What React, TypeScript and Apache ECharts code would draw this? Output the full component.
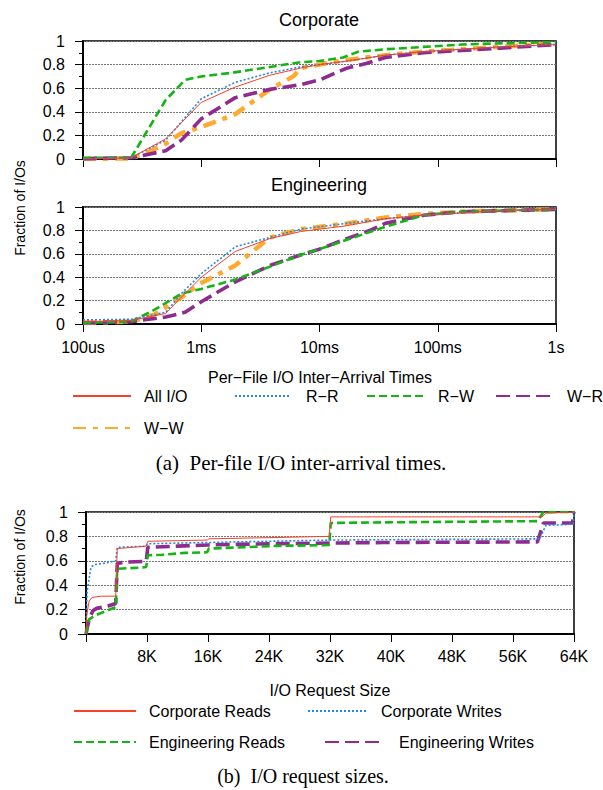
import React, { useEffect, useRef } from "react";
import * as echarts from "echarts";

// ---------- data (time in ms, fraction) ----------
const TIME_TICKS = [0.1, 1, 10, 100, 1000];
const TIME_TICK_LABELS = ["100us", "1ms", "10ms", "100ms", "1s"];
const SIZE_TICK_LABELS = ["", "8K", "16K", "24K", "32K", "40K", "48K", "56K", "64K"];

const corpAll = [[0.1, 0.0], [0.255, 0.01], [0.5, 0.17], [1.0, 0.48], [1.94, 0.61], [3.8, 0.71], [6.9, 0.77], [10, 0.8], [17, 0.83], [36, 0.88], [76, 0.91], [160, 0.93], [340, 0.95], [1000, 0.97]];
const corpRR = [[0.1, 0.0], [0.255, 0.01], [0.5, 0.16], [1.0, 0.51], [1.94, 0.65], [3.8, 0.73], [6.9, 0.78], [10, 0.8], [17, 0.83], [36, 0.88], [76, 0.91], [160, 0.93], [340, 0.95], [1000, 0.97]];
const corpRW = [[0.1, 0.01], [0.255, 0.01], [0.5, 0.5], [0.73, 0.67], [1.0, 0.7], [1.8, 0.73], [3.8, 0.78], [6.9, 0.82], [10, 0.83], [15.8, 0.86], [21.4, 0.91], [36, 0.93], [76, 0.95], [160, 0.97], [340, 0.98], [1000, 0.99]];
const corpWR = [[0.1, 0.0], [0.13, 0.005], [0.255, 0.01], [0.5, 0.07], [0.68, 0.16], [1.0, 0.34], [1.94, 0.52], [3.8, 0.59], [6.9, 0.63], [10, 0.67], [17, 0.77], [24.8, 0.81], [36, 0.86], [76, 0.9], [160, 0.92], [340, 0.94], [1000, 0.97]];
const corpWW = [[0.1, 0.0], [0.255, 0.005], [0.344, 0.05], [0.5, 0.13], [0.68, 0.22], [1.0, 0.27], [1.94, 0.38], [3.8, 0.59], [6.0, 0.7], [6.9, 0.77], [10, 0.8], [17, 0.84], [36, 0.88], [76, 0.91], [160, 0.93], [340, 0.95], [1000, 0.98]];

const engAll = [[0.1, 0.02], [0.255, 0.03], [0.5, 0.09], [0.68, 0.23], [1.0, 0.4], [1.94, 0.62], [3.8, 0.73], [6.9, 0.79], [17, 0.84], [36, 0.9], [76, 0.93], [160, 0.95], [340, 0.97], [1000, 0.98]];
const engRR = [[0.1, 0.035], [0.255, 0.04], [0.5, 0.1], [0.68, 0.26], [1.0, 0.43], [1.94, 0.66], [3.8, 0.74], [6.9, 0.81], [17, 0.86], [36, 0.9], [76, 0.93], [160, 0.95], [340, 0.97], [1000, 0.98]];
const engRW = [[0.1, 0.01], [0.255, 0.02], [0.4, 0.12], [0.68, 0.26], [1.0, 0.3], [1.94, 0.38], [3.8, 0.49], [6.9, 0.59], [10, 0.64], [17, 0.72], [36, 0.83], [76, 0.93], [160, 0.96], [1000, 0.98]];
const engWR = [[0.1, 0.01], [0.255, 0.02], [0.5, 0.06], [0.73, 0.1], [1.0, 0.19], [1.94, 0.36], [3.8, 0.5], [6.9, 0.59], [10, 0.64], [17, 0.73], [26.7, 0.8], [36, 0.86], [76, 0.93], [160, 0.96], [1000, 0.98]];
const engWW = [[0.1, 0.01], [0.255, 0.02], [0.4, 0.08], [0.68, 0.23], [1.0, 0.35], [1.94, 0.5], [3.8, 0.74], [6.9, 0.81], [17, 0.86], [36, 0.91], [76, 0.94], [160, 0.96], [340, 0.97], [1000, 0.98]];

// request sizes in K
const corpReads = [[0, 0], [0.1, 0.15], [0.4, 0.27], [0.8, 0.3], [2, 0.31], [3.9, 0.31], [4.1, 0.7], [7.9, 0.72], [8.1, 0.76], [15.9, 0.77], [16.1, 0.78], [31.9, 0.8], [32.1, 0.96], [59.8, 0.96], [60.3, 0.99], [64, 1.0]];
const corpWrites = [[0, 0.1], [0.15, 0.35], [0.65, 0.55], [1.15, 0.57], [2.4, 0.58], [3.9, 0.6], [4.1, 0.71], [7.9, 0.72], [8.1, 0.74], [16, 0.75], [24, 0.76], [32, 0.77], [59.5, 0.78], [60.3, 0.89], [63.9, 0.9], [64, 1.0]];
const engReads = [[0, 0], [0.4, 0.12], [1.15, 0.15], [1.9, 0.17], [3.9, 0.22], [4.1, 0.535], [7.4, 0.545], [7.9, 0.55], [8.1, 0.645], [10, 0.65], [13, 0.665], [15.9, 0.67], [16.1, 0.7], [24, 0.72], [31.9, 0.73], [32.1, 0.91], [39, 0.915], [49, 0.92], [59.2, 0.925], [60, 1.0], [64, 1.0]];
const engWrites = [[0, 0], [0.4, 0.12], [0.9, 0.19], [1.4, 0.21], [2.9, 0.23], [3.9, 0.25], [4.1, 0.58], [5.4, 0.59], [7.9, 0.595], [8.1, 0.71], [12, 0.72], [16, 0.73], [24, 0.74], [32, 0.745], [39, 0.75], [59.2, 0.755], [60, 0.91], [63.8, 0.91], [64, 1.0]];

// ---------- styles ----------
const FONT = "'Liberation Sans', Arial, Helvetica, sans-serif";
const SERIF = "'Liberation Serif', 'Times New Roman', serif";
const STY = {
  red: { color: "#f6402a", width: 1, type: "solid" as any },
  blue: { color: "#1f88e8", width: 1.6, type: [2, 2] as any },
  green: { color: "#14b414", width: 2.6, type: [8, 4] as any },
  purple: { color: "#8e2a90", width: 3.6, type: [14, 6] as any },
  orange: { color: "#ffaa2e", width: 4.5, type: [13, 7, 5, 7] as any },
};

function lineSeries(name: string, data: number[][], idx: number, s: any, z: number) {
  return {
    type: "line",
    name,
    data,
    xAxisIndex: idx,
    yAxisIndex: idx,
    symbol: "none",
    showSymbol: false,
    z,
    color: s.color,
    lineStyle: { color: s.color, width: s.width, type: s.type },
    itemStyle: { color: s.color },
  };
}

function timeLabel(v: number) {
  let best = 0;
  let bd = Infinity;
  TIME_TICKS.forEach((t, i) => {
    const d = Math.abs(Math.log10(t) - Math.log10(v));
    if (d < bd) { bd = d; best = i; }
  });
  return bd < 0.01 ? TIME_TICK_LABELS[best] : "";
}

const axisLine = { show: true, lineStyle: { color: "#000", width: 2 } };
const tickStyle = { color: "#000", width: 1 };

function yAxis(idx: number) {
  return {
    type: "value",
    gridIndex: idx,
    min: 0,
    max: 1,
    interval: 0.2,
    axisLine,
    axisTick: { show: true, length: 8, lineStyle: tickStyle },
    minorTick: { show: true, splitNumber: 2, length: 4, lineStyle: tickStyle },
    splitLine: { show: true, lineStyle: { color: "#777", width: 1, type: [2, 1] } },
    axisLabel: {
      fontFamily: FONT,
      fontSize: 16,
      color: "#000",
      margin: 18,
      formatter: (v: number) => String(+v.toFixed(1)),
    },
  };
}

function timeAxis(idx: number, labels: boolean) {
  return {
    type: "log",
    gridIndex: idx,
    logBase: 10,
    min: TIME_TICKS[0],
    max: TIME_TICKS[TIME_TICKS.length - 1],
    axisLine,
    axisTick: { show: true, length: 8, lineStyle: tickStyle },
    minorTick: { show: false },
    splitLine: { show: false },
    axisLabel: {
      show: labels,
      fontFamily: FONT,
      fontSize: 16,
      color: "#000",
      margin: 15,
      formatter: (v: number) => timeLabel(v),
    },
  };
}

function legendItem(name: string, left: number, top: number, itemWidth: number, pad: number) {
  return {
    show: true,
    data: [name],
    left,
    top: top - 9,
    orient: "horizontal",
    itemWidth,
    itemHeight: 14,
    selectedMode: false,
    padding: 0,
    itemStyle: { opacity: 0, borderWidth: 0 },
    textStyle: { fontFamily: FONT, fontSize: 16, color: "#000", lineHeight: 18, padding: [0, 0, 0, pad] },
  };
}

function textEl(text: string, x: number, y: number, size: number, family: string, rotation = 0) {
  return {
    type: "text",
    x,
    y,
    rotation,
    style: {
      text,
      fontFamily: family,
      fontSize: size,
      fill: "#000",
      align: "center",
      verticalAlign: "middle",
      textAlign: "center",
      textVerticalAlign: "middle",
    },
  };
}

export default function App() {
  const ref = useRef<HTMLDivElement>(null);
  useEffect(() => {
    if (!ref.current) return;
    const chart = echarts.init(ref.current, undefined, { renderer: "svg" });
    const gridBase = { show: true, borderColor: "#000", borderWidth: 1.5, backgroundColor: "transparent", containLabel: false };
    const option: any = {
      animation: false,
      backgroundColor: "#fff",
      textStyle: { fontFamily: FONT },
      grid: [
        { ...gridBase, left: 83, top: 41, width: 473, height: 118 },
        { ...gridBase, left: 83, top: 207, width: 473, height: 117 },
        { ...gridBase, left: 86, top: 512, width: 488, height: 122 },
      ],
      xAxis: [
        timeAxis(0, false),
        timeAxis(1, true),
        {
          type: "value",
          gridIndex: 2,
          min: 0,
          max: 64,
          interval: 8,
          axisLine,
          axisTick: { show: true, length: 8, lineStyle: tickStyle },
          splitLine: { show: false },
          axisLabel: {
            fontFamily: FONT,
            fontSize: 16,
            color: "#000",
            margin: 14,
            formatter: (v: number) => SIZE_TICK_LABELS[Math.round(v / 8)] ?? "",
          },
        },
      ],
      yAxis: [yAxis(0), yAxis(1), yAxis(2)],
      legend: [
        legendItem("All I/O", 72, 396, 58, 8),
        legendItem("R\u2212R", 234, 396, 56, 10),
        legendItem("R\u2212W", 366, 396, 58, 8),
        legendItem("W\u2212R", 495, 396, 56, 10),
        legendItem("W\u2212W", 72, 428, 58, 8),
        legendItem("Corporate Reads", 73, 711, 62, 8),
        legendItem("Corporate Writes", 307, 711, 58, 10),
        legendItem("Engineering Reads", 73, 742, 62, 8),
        legendItem("Engineering Writes", 324, 742, 58, 11),
      ],
      series: [
        lineSeries("All I/O", corpAll, 0, STY.red, 6),
        lineSeries("R\u2212R", corpRR, 0, STY.blue, 5),
        lineSeries("R\u2212W", corpRW, 0, STY.green, 4),
        lineSeries("W\u2212R", corpWR, 0, STY.purple, 3),
        lineSeries("W\u2212W", corpWW, 0, STY.orange, 2),
        lineSeries("All I/O", engAll, 1, STY.red, 6),
        lineSeries("R\u2212R", engRR, 1, STY.blue, 5),
        lineSeries("R\u2212W", engRW, 1, STY.green, 4),
        lineSeries("W\u2212R", engWR, 1, STY.purple, 3),
        lineSeries("W\u2212W", engWW, 1, STY.orange, 2),
        lineSeries("Corporate Reads", corpReads, 2, STY.red, 6),
        lineSeries("Corporate Writes", corpWrites, 2, STY.blue, 5),
        lineSeries("Engineering Reads", engReads, 2, STY.green, 4),
        lineSeries("Engineering Writes", engWrites, 2, STY.purple, 3),
      ],
      graphic: [
        textEl("Corporate", 319, 20, 18, FONT),
        textEl("Engineering", 319, 185, 18, FONT),
        textEl("Fraction of I/Os", 20, 208, 14, FONT, Math.PI / 2),
        textEl("Per\u2212File I/O Inter\u2212Arrival Times", 320, 377, 16, FONT),
        textEl("(a)  Per-file I/O inter-arrival times.", 301, 463, 21, SERIF),
        textEl("Fraction of I/Os", 20, 557, 14, FONT, Math.PI / 2),
        textEl("I/O Request Size", 330, 690, 16, FONT),
        textEl("(b)  I/O request sizes.", 303, 776, 20, SERIF),
      ],
    };
    chart.setOption(option);
    return () => chart.dispose();
  }, []);
  return (
    <div
      ref={ref}
      style={{ position: "fixed", left: 0, top: 0, width: 603, height: 790, background: "#fff" }}
    />
  );
}
